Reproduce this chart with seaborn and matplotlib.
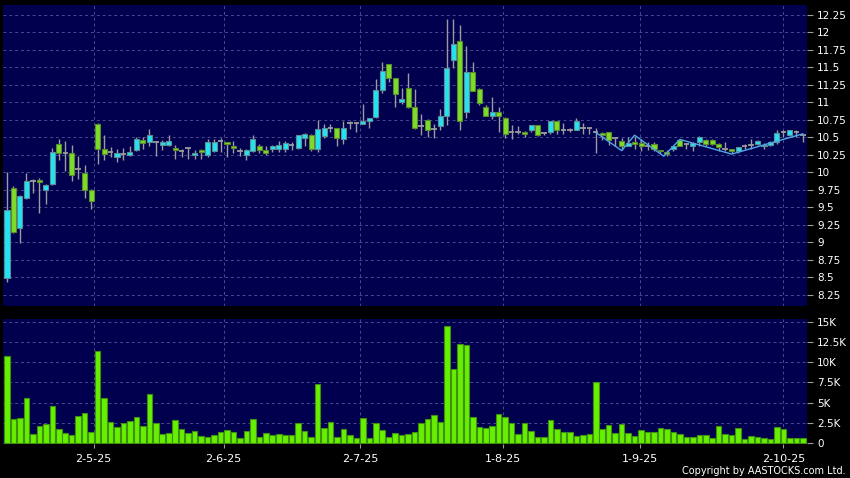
import numpy as np
import pandas as pd
import seaborn as sns
import matplotlib.pyplot as plt

# daily OHLC (trading-day index 0..123)
opens = [8.49, 9.78, 9.21, 9.64, 9.87, 9.89, 9.75, 9.84, 10.40, 10.28,
         10.28, 10.05, 9.99, 9.75, 10.69, 10.34, 10.29, 10.22, 10.26, 10.25,
         10.32, 10.46, 10.43, 10.44, 10.39, 10.39, 10.35, 10.30, 10.35, 10.25,
         10.32, 10.25, 10.30, 10.45, 10.44, 10.38, 10.31, 10.25, 10.30, 10.38,
         10.32, 10.33, 10.33, 10.34, 10.39, 10.35, 10.49, 10.53, 10.33, 10.52,
         10.63, 10.63, 10.48, 10.70, 10.70, 10.69, 10.73, 10.79, 11.18, 11.55,
         11.35, 11.01, 11.20, 10.93, 10.66, 10.75, 10.62, 10.66, 10.81, 11.61,
         11.88, 10.86, 11.43, 11.19, 10.94, 10.81, 10.86, 10.78, 10.58, 10.58,
         10.58, 10.61, 10.67, 10.56, 10.57, 10.73, 10.61, 10.61, 10.60, 10.63,
         10.63, 10.57, 10.56, 10.57, 10.49, 10.45, 10.38, 10.44, 10.42, 10.37,
         10.40, 10.32, 10.29, 10.33, 10.46, 10.40, 10.37, 10.43, 10.46, 10.46,
         10.41, 10.33, 10.33, 10.30, 10.37, 10.39, 10.41, 10.37, 10.39, 10.44,
         10.58, 10.53, 10.58, 10.54]
highs = [10.00, 9.80, 9.67, 9.99, 9.91, 9.92, 9.83, 10.35, 10.47, 10.45,
         10.39, 10.23, 10.10, 9.76, 10.70, 10.53, 10.36, 10.34, 10.35, 10.38,
         10.50, 10.50, 10.62, 10.45, 10.46, 10.53, 10.39, 10.34, 10.35, 10.32,
         10.33, 10.48, 10.47, 10.49, 10.44, 10.45, 10.35, 10.33, 10.54, 10.41,
         10.38, 10.39, 10.45, 10.45, 10.44, 10.54, 10.56, 10.55, 10.75, 10.69,
         10.69, 10.64, 10.73, 10.74, 10.70, 10.98, 10.78, 11.33, 11.58, 11.55,
         11.35, 11.20, 11.42, 11.19, 10.84, 10.76, 10.69, 10.91, 12.19, 12.19,
         12.11, 11.81, 11.58, 11.20, 10.96, 11.08, 10.94, 10.79, 10.68, 10.66,
         10.59, 10.67, 10.67, 10.58, 10.73, 10.73, 10.70, 10.64, 10.77, 10.70,
         10.63, 10.63, 10.58, 10.58, 10.49, 10.49, 10.51, 10.51, 10.47, 10.44,
         10.44, 10.32, 10.32, 10.38, 10.47, 10.42, 10.44, 10.52, 10.47, 10.47,
         10.42, 10.44, 10.33, 10.36, 10.41, 10.47, 10.46, 10.42, 10.45, 10.60,
         10.61, 10.61, 10.60, 10.54]
lows = [8.43, 9.13, 8.99, 9.62, 9.70, 9.42, 9.55, 9.82, 10.17, 10.02,
        9.87, 9.91, 9.63, 9.47, 10.12, 10.17, 10.22, 10.15, 10.18, 10.24,
        10.30, 10.34, 10.38, 10.24, 10.32, 10.38, 10.19, 10.22, 10.19, 10.19,
        10.19, 10.22, 10.29, 10.29, 10.22, 10.27, 10.24, 10.18, 10.29, 10.28,
        10.25, 10.29, 10.29, 10.29, 10.32, 10.34, 10.38, 10.31, 10.29, 10.49,
        10.57, 10.38, 10.41, 10.62, 10.57, 10.69, 10.64, 10.78, 11.14, 11.29,
        10.93, 10.97, 10.92, 10.62, 10.54, 10.50, 10.49, 10.61, 10.68, 11.49,
        10.61, 10.77, 11.16, 10.96, 10.80, 10.76, 10.58, 10.49, 10.47, 10.55,
        10.50, 10.58, 10.52, 10.54, 10.55, 10.55, 10.55, 10.58, 10.60, 10.55,
        10.55, 10.28, 10.46, 10.39, 10.37, 10.32, 10.37, 10.34, 10.30, 10.32,
        10.31, 10.27, 10.23, 10.30, 10.37, 10.33, 10.31, 10.38, 10.37, 10.39,
        10.31, 10.31, 10.28, 10.28, 10.33, 10.34, 10.39, 10.34, 10.37, 10.41,
        10.51, 10.52, 10.51, 10.44]
closes = [9.46, 9.15, 9.66, 9.88, 9.87, 9.86, 9.82, 10.29, 10.28, 10.28,
          9.96, 10.05, 9.75, 9.59, 10.34, 10.26, 10.29, 10.28, 10.26, 10.29,
          10.48, 10.42, 10.54, 10.44, 10.43, 10.45, 10.32, 10.30, 10.35, 10.28,
          10.29, 10.43, 10.43, 10.45, 10.40, 10.35, 10.31, 10.32, 10.48, 10.32,
          10.28, 10.37, 10.39, 10.42, 10.39, 10.53, 10.55, 10.34, 10.62, 10.63,
          10.63, 10.49, 10.64, 10.70, 10.70, 10.74, 10.78, 11.18, 11.45, 11.35,
          11.12, 11.05, 10.93, 10.63, 10.66, 10.61, 10.62, 10.80, 11.49, 11.83,
          10.74, 11.43, 11.16, 10.99, 10.81, 10.86, 10.81, 10.55, 10.58, 10.58,
          10.55, 10.67, 10.53, 10.56, 10.73, 10.61, 10.61, 10.61, 10.73, 10.63,
          10.63, 10.57, 10.53, 10.46, 10.49, 10.38, 10.42, 10.41, 10.38, 10.37,
          10.33, 10.30, 10.26, 10.38, 10.38, 10.40, 10.42, 10.50, 10.41, 10.41,
          10.36, 10.33, 10.30, 10.36, 10.37, 10.39, 10.45, 10.39, 10.44, 10.56,
          10.58, 10.60, 10.58, 10.54]
# volume in thousands of shares
volume = [10.74, 3.03, 3.11, 5.57, 1.15, 2.13, 2.38, 4.59, 1.76, 1.23,
          0.98, 3.36, 3.69, 1.39, 11.39, 5.53, 2.66, 2.01, 2.50, 2.75,
          3.28, 2.05, 6.07, 2.42, 1.15, 1.27, 2.87, 1.76, 1.19, 1.48,
          0.90, 0.74, 1.02, 1.35, 1.64, 1.35, 0.66, 1.52, 2.95, 0.70,
          1.19, 0.94, 1.11, 0.94, 1.02, 2.46, 1.52, 0.78, 7.30, 1.84,
          2.66, 0.78, 1.76, 0.94, 0.66, 3.07, 0.57, 2.42, 1.56, 0.78,
          1.27, 1.02, 1.11, 1.35, 2.46, 2.95, 3.44, 2.58, 14.50, 9.18,
          12.25, 12.09, 3.28, 1.97, 1.84, 2.17, 3.65, 3.24, 2.54, 1.07,
          2.54, 1.52, 0.70, 0.78, 2.83, 1.68, 1.31, 1.39, 0.85, 1.02,
          1.15, 7.54, 1.80, 2.25, 1.27, 2.38, 1.23, 0.90, 1.64, 1.39,
          1.39, 1.89, 1.80, 1.39, 1.07, 0.78, 0.70, 1.02, 0.94, 0.61,
          2.05, 1.15, 0.98, 1.89, 0.53, 0.90, 0.70, 0.66, 0.49, 1.97,
          1.76, 0.61, 0.57, 0.57]

# thin indicator line on the right
line_idx = [91, 95, 97, 101.5, 104, 112, 123]
line_price = [10.57, 10.31, 10.53, 10.23, 10.47, 10.26, 10.55]

date_pos = [13.4, 33.5, 54.6, 76.7, 97.8, 120.0]
date_labels = ["2-5-25", "2-6-25", "2-7-25", "1-8-25", "1-9-25", "2-10-25"]
price_ticks = [8.25, 8.5, 8.75, 9, 9.25, 9.5, 9.75, 10, 10.25, 10.5,
               10.75, 11, 11.25, 11.5, 11.75, 12, 12.25]
price_labels = ["8.25", "8.5", "8.75", "9", "9.25", "9.5", "9.75", "10", "10.25", "10.5",
                "10.75", "11", "11.25", "11.5", "11.75", "12", "12.25"]
vol_ticks = [0, 2.5, 5, 7.5, 10, 12.5, 15]
vol_labels = ["0", "2.5K", "5K", "7.5K", "10K", "12.5K", "15K"]

df = pd.DataFrame({"o": opens, "h": highs, "l": lows, "c": closes, "v": volume})
df["i"] = np.arange(len(df))

navy = "#00004f"
gridc = "#4a4a8e"
up_c = "#22e4f0"
dn_c = "#7ddc2a"
wick_c = "#9c9c9c"

fig = plt.figure(figsize=(8.5, 4.78), dpi=100, facecolor="black")
ax = fig.add_axes([0.0039, 0.3598, 0.9459, 0.6297])
axv = fig.add_axes([0.0039, 0.0711, 0.9459, 0.2615])

for a in (ax, axv):
    a.set_facecolor(navy)
    for s in a.spines.values():
        s.set_visible(False)

# candles
ax.vlines(df.i, df.l, df.h, color=wick_c, lw=1, zorder=2)
up = df[df.c > df.o]
dn = df[df.c < df.o]
fl = df[df.c == df.o]
ax.bar(up.i, up.c - up.o, bottom=up.o, width=0.78, color=up_c,
       edgecolor="#5d8c96", lw=0.8, zorder=3)
ax.bar(dn.i, dn.o - dn.c, bottom=dn.c, width=0.78, color=dn_c,
       edgecolor="#5a8a2c", lw=0.8, zorder=3)
ax.hlines(fl.o, fl.i - 0.42, fl.i + 0.42, color=wick_c, lw=1.3, zorder=3)

sns.lineplot(x=line_idx, y=line_price, ax=ax, color="#4fa8e6", lw=1, zorder=4)

ax.set_xlim(-0.57, 123.7)
ax.set_ylim(8.09, 12.39)
ax.set_yticks(price_ticks, price_labels)
ax.set_xticks(date_pos)
ax.yaxis.tick_right()
ax.tick_params(axis="y", colors="#9a9a9a", labelcolor="white", length=4, pad=3, labelsize=7.5)
ax.tick_params(axis="x", length=0, labelbottom=False)
ax.grid(True, color=gridc, ls=(0, (3, 3)), lw=0.7)
ax.set_axisbelow(True)

# volume
sns.barplot(x=df.i, y=df.v, ax=axv, native_scale=True, color="#66f000",
            saturation=1, width=0.86, edgecolor="#3f8f10", linewidth=0.8,
            errorbar=None, zorder=3)
axv.set_xlim(-0.57, 123.7)
axv.set_ylim(-0.12, 15.35)
axv.set_yticks(vol_ticks, vol_labels)
axv.set_xticks(date_pos, date_labels)
axv.set_xlabel("")
axv.set_ylabel("")
axv.yaxis.tick_right()
axv.tick_params(axis="y", colors="#9a9a9a", labelcolor="white", length=4, pad=3, labelsize=7.5)
axv.tick_params(axis="x", colors="#9a9a9a", labelcolor="white", length=3, pad=4, labelsize=8)
axv.grid(True, color=gridc, ls=(0, (3, 3)), lw=0.7)
axv.set_axisbelow(True)

fig.text(0.995, 0.014, "Copyright by AASTOCKS.com Ltd.", ha="right", va="center",
         color="white", fontsize=7)

plt.savefig("out.png", dpi=100, facecolor="black")
